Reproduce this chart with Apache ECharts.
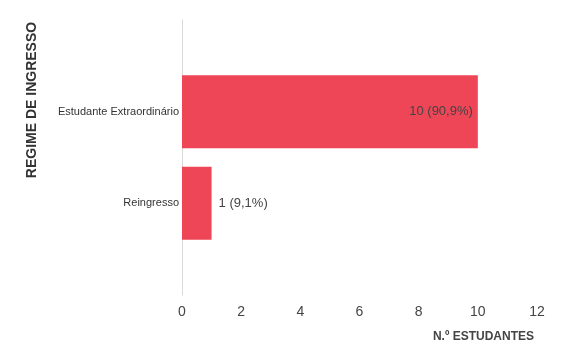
<!DOCTYPE html>
<html><head><meta charset="utf-8">
<script src="https://cdn.jsdelivr.net/npm/echarts@6/dist/echarts.min.js"></script>
<style>html,body{margin:0;padding:0;background:#fff}#c{width:570px;height:360px}</style>
</head><body><div id="c"></div>
<script>
var categories = ['', 'Estudante Extraordinário', 'Reingresso', ''];
var values = ['-', 10, 1, '-'];
var pctLabels = ['', '10 (90,9%)', '1 (9,1%)', ''];
var xTicks = { min: 0, max: 12, interval: 2 };
var yTitle = 'REGIME DE INGRESSO';
var xTitle = 'N.º ESTUDANTES';

var chart = echarts.init(document.getElementById('c'), null, {renderer: 'canvas'});
var seriesData = values.map(function (v, i) {
  return {
    value: v,
    label: {
      show: v !== '-',
      position: (v !== '-' && v >= 5) ? 'insideRight' : 'right',
      distance: (v !== '-' && v >= 5) ? 5 : 7,
      formatter: pctLabels[i]
    }
  };
});
chart.setOption({
  animation: false,
  backgroundColor: '#fff',
  grid: { left: 182, right: 33, top: 20, bottom: 65, containLabel: false },
  xAxis: {
    type: 'value', min: xTicks.min, max: xTicks.max, interval: xTicks.interval,
    axisLine: { show: false }, axisTick: { show: false }, splitLine: { show: false },
    axisLabel: { color: '#444', fontSize: 14, fontFamily: 'Liberation Sans, Arial', margin: 10 }
  },
  yAxis: {
    type: 'category', data: categories, inverse: true, boundaryGap: false,
    axisLine: { show: true, lineStyle: { color: '#d9d9d9', width: 1 } },
    axisTick: { show: false },
    axisLabel: { color: '#333', fontSize: 11, fontFamily: 'Liberation Sans, Arial', margin: 3 }
  },
  series: [{
    type: 'bar', data: seriesData, barWidth: 73,
    itemStyle: { color: '#EF4657' },
    label: { color: '#444', fontSize: 13, fontFamily: 'Liberation Sans, Arial' }
  }],
  graphic: [
    { type: 'text', x: 32, y: 100, rotation: Math.PI / 2,
      style: { text: yTitle, fill: '#333', font: 'bold 14px Liberation Sans, Arial', align: 'center', verticalAlign: 'middle' } },
    { type: 'text', x: 534, y: 337,
      style: { text: xTitle, fill: '#444', font: 'bold 12px Liberation Sans, Arial', align: 'right', verticalAlign: 'middle' } }
  ]
});
</script></body></html>
